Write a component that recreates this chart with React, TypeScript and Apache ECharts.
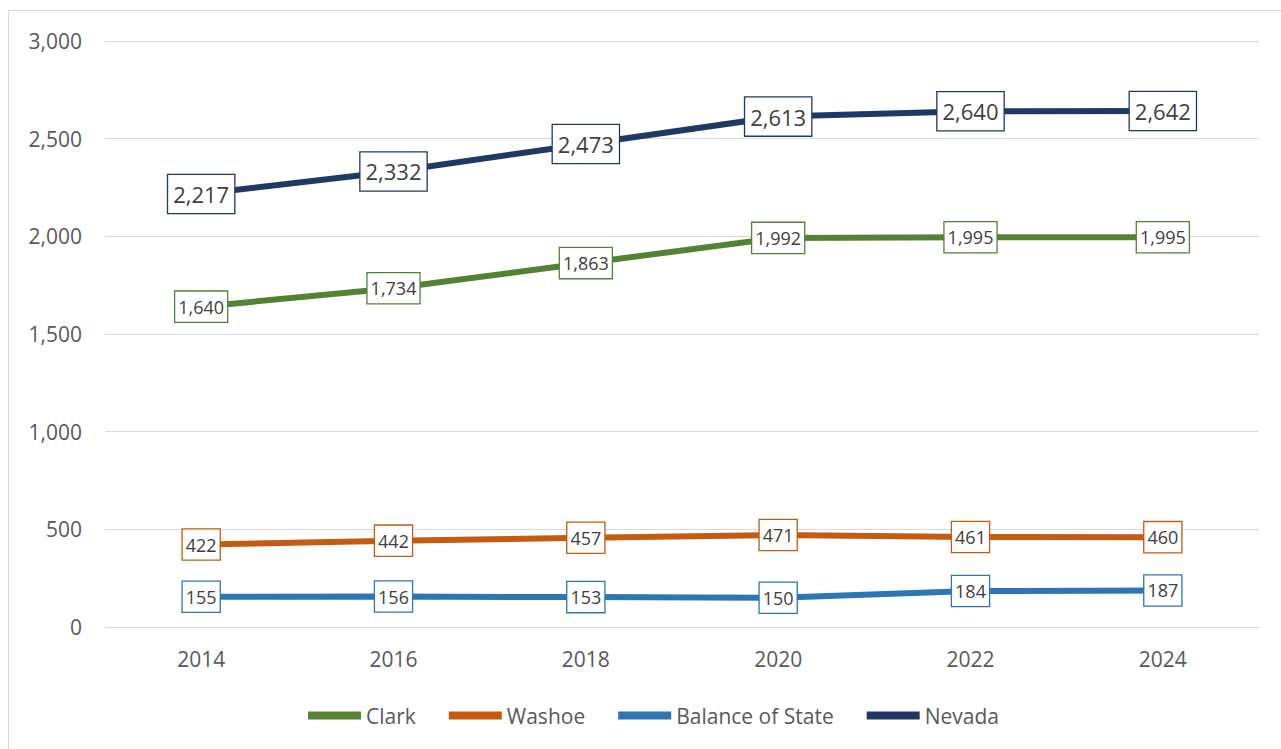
import React, { useEffect, useRef } from "react";
import * as echarts from "echarts";

const years = ["2014", "2016", "2018", "2020", "2022", "2024"];
const clark = [1640, 1734, 1863, 1992, 1995, 1995];
const washoe = [422, 442, 457, 471, 461, 460];
const balance = [155, 156, 153, 150, 184, 187];
const nevada = [2217, 2332, 2473, 2613, 2640, 2642];

const seriesNames = ["Clark", "Washoe", "Balance of State", "Nevada"];
const seriesColors = ["#548235", "#C55A11", "#2E75B6", "#203864"];

const FONT = "'Open Sans', sans-serif";

export default function App() {
  const ref = useRef<HTMLDivElement>(null);
  useEffect(() => {
    if (!ref.current) return;
    const chart = echarts.init(ref.current, undefined, { renderer: "svg" });
    const fmt = (v: number) => v.toLocaleString("en-US");
    const data = [clark, washoe, balance, nevada];
    const series = data.map((d, i) => {
      const big = i === 3;
      return {
        name: seriesNames[i],
        type: "line",
        data: d,
        symbol: "circle",
        symbolSize: 1,
        z: big ? 5 : 3,
        lineStyle: { width: 6, color: seriesColors[i] },
        itemStyle: { color: seriesColors[i] },
        label: {
          show: true,
          position: "inside",
          formatter: (p: any) => fmt(p.value),
          fontFamily: FONT,
          fontSize: big ? 22 : 18,
          lineHeight: big ? 28 : 22,
          color: "#404040",
          backgroundColor: "#ffffff",
          borderColor: seriesColors[i],
          borderWidth: 1.3,
          padding: big ? [5, 5, 5, 5] : [4, 3, 4, 3],
        },
        emphasis: { disabled: true },
      };
    });
    chart.setOption({
      animation: false,
      backgroundColor: "transparent",
      grid: { left: 105, right: 22, top: 41, bottom: 122 },
      legend: {
        show: true,
        left: 303,
        top: 700,
        icon: "rect",
        itemWidth: 53,
        itemHeight: 8,
        itemGap: 33,
        textStyle: { fontFamily: FONT, fontSize: 21, color: "#595959" },
        data: seriesNames,
      },
      xAxis: {
        type: "category",
        data: years,
        boundaryGap: true,
        axisLine: { show: false },
        axisTick: { show: false },
        axisLabel: { fontFamily: FONT, fontSize: 21, color: "#595959", margin: 21 },
      },
      yAxis: {
        type: "value",
        min: 0,
        max: 3000,
        interval: 500,
        axisLine: { show: false },
        axisTick: { show: false },
        axisLabel: {
          fontFamily: FONT,
          fontSize: 21,
          color: "#595959",
          margin: 23,
          formatter: (v: number) => fmt(v),
        },
        splitLine: { lineStyle: { color: "#d9d9d9", width: 1 } },
      },
      series,
    });
    return () => chart.dispose();
  }, []);
  return (
    <div
      style={{
        position: "fixed",
        left: 0,
        top: 0,
        width: 1281,
        height: 749,
        overflow: "hidden",
        background: "#ffffff",
      }}
    >
      <div
        style={{
          position: "absolute",
          left: 8,
          top: 10,
          width: 1320,
          height: 800,
          border: "1px solid #d9d9d9",
          boxSizing: "border-box",
        }}
      />
      <div ref={ref} style={{ position: "absolute", left: 0, top: 0, width: 1281, height: 749 }} />
    </div>
  );
}
